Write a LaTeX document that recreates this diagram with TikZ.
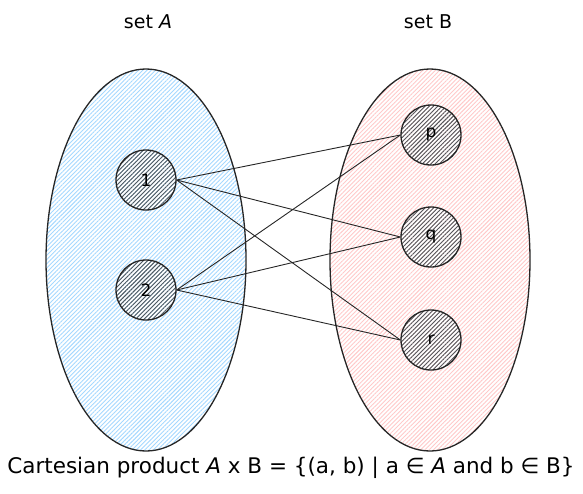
\documentclass[tikz,border=0pt]{standalone}
\usepackage{fontspec}
\setmainfont{DejaVu Sans}
\usetikzlibrary{shapes.geometric,patterns.meta}
\definecolor{setblue}{HTML}{A5D8FF}
\definecolor{setpink}{HTML}{FFC9C9}
\definecolor{elemgray}{HTML}{343A40}
\tikzset{
    setbox/.style={ellipse, draw=black!85, line width=1.3pt, minimum width=200pt, minimum height=382pt},
    elem/.style={circle, draw=black!85, line width=1.3pt, minimum size=60pt, font=\fontsize{17}{20}\selectfont,
        pattern={Lines[angle=45,distance=3pt,line width=0.9pt]}, pattern color=elemgray!85},
    pair/.style={draw=black!85, line width=0.9pt},
    caption/.style={font=\fontsize{19}{22}\selectfont}
}
\begin{document}
\begin{tikzpicture}[x=1pt, y=-1pt]
\useasboundingbox (0,0) rectangle (583,493);
% the two sets
\node[setbox, pattern={Lines[angle=45,distance=3pt,line width=0.9pt]}, pattern color=setblue] (setA) at (146,260) {};
\node[setbox, pattern={Lines[angle=45,distance=3pt,line width=0.9pt]}, pattern color=setpink] (setB) at (430,260) {};
\node[caption] (labelA) at (148,22) {set \textit{A}};
\node[caption] (labelB) at (428,22) {set B};
% elements
\foreach \name/\x/\y in {1/146/180, 2/146/290, p/431/135, q/431/237, r/431/340} {
    \node[elem] (\name) at (\x,\y) {\name};
}
% all pairs
\foreach \a in {1,2} {
    \foreach \b in {p,q,r} {
        \draw[pair] (\a.east) -- (\b.west);
    }
}
\node[font=\fontsize{21.5}{25}\selectfont] (product) at (291,468) {Cartesian product \textit{A} x B = \{(a, b) | a ∈ \textit{A} and b ∈ B\}};
\end{tikzpicture}
\end{document}
